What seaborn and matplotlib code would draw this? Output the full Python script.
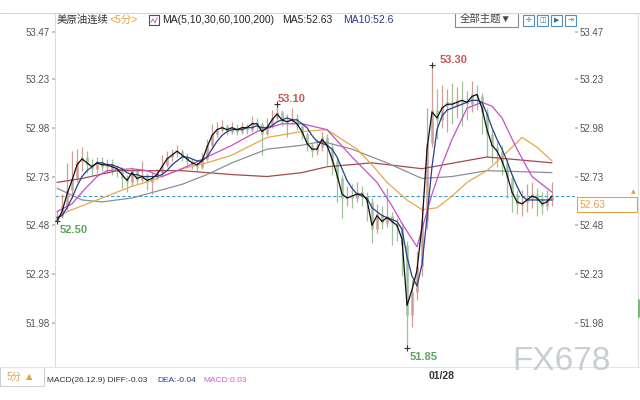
import numpy as np
import pandas as pd
import matplotlib
matplotlib.use("Agg")
import matplotlib.pyplot as plt
from matplotlib.lines import Line2D
from matplotlib.patches import Rectangle
import seaborn as sns

# ------------------------------------------------------------------
# Data: 5-minute bars of US crude (continuous)
# ------------------------------------------------------------------
first_open = 52.51
closes = [
    52.53, 52.58, 52.66, 52.72, 52.81, 52.83, 52.79, 52.77, 52.81, 52.78,
    52.80, 52.77, 52.76, 52.72, 52.70, 52.76, 52.71, 52.74, 52.70, 52.73,
    52.75, 52.79, 52.83, 52.85, 52.86, 52.83, 52.81, 52.79, 52.78, 52.82,
    52.89, 52.95, 52.97, 52.99, 52.96, 52.98, 52.96, 52.99, 52.97, 53.01,
    53.00, 52.95, 52.99, 53.03, 53.06, 53.01, 53.02, 53.03, 52.99, 52.95,
    52.89, 52.86, 52.88, 52.93, 52.88, 52.81, 52.72, 52.62, 52.63, 52.62,
    52.65, 52.63, 52.60, 52.46, 52.54, 52.49, 52.53, 52.49, 52.47, 52.38,
    52.02, 52.14, 52.27, 52.50, 52.90, 53.07, 53.02, 53.09, 53.11, 53.09,
    53.12, 53.11, 53.10, 53.15, 53.14, 53.06, 52.95, 52.88, 52.86, 52.80,
    52.72, 52.64, 52.59, 52.60, 52.62, 52.64, 52.61, 52.58, 52.61, 52.63,
]
highs = [
    52.56, 52.64, 52.80, 52.86, 52.87, 52.88, 52.86, 52.82, 52.83, 52.83,
    52.82, 52.82, 52.79, 52.78, 52.74, 52.78, 52.77, 52.81, 52.75, 52.75,
    52.77, 52.84, 52.86, 52.87, 52.89, 52.87, 52.85, 52.82, 52.81, 52.85,
    52.92, 53.00, 53.01, 53.02, 53.00, 53.01, 53.00, 53.01, 53.00, 53.04,
    53.03, 53.01, 53.03, 53.07, 53.10, 53.07, 53.05, 53.08, 53.05, 53.00,
    52.96, 52.90, 52.92, 52.96, 52.95, 52.90, 52.83, 52.74, 52.68, 52.69,
    52.70, 52.68, 52.65, 52.62, 52.59, 52.58, 52.67, 52.55, 52.52, 52.49,
    52.40, 52.20, 52.35, 52.58, 53.08, 53.30, 53.18, 53.20, 53.18, 53.21,
    53.19, 53.22, 53.17, 53.22, 53.20, 53.16, 53.08, 52.97, 52.91, 52.89,
    52.82, 52.74, 52.66, 52.66, 52.69, 52.70, 52.67, 52.65, 52.66, 52.70,
]
lows = [
    52.50, 52.52, 52.56, 52.62, 52.70, 52.76, 52.75, 52.74, 52.75, 52.76,
    52.75, 52.74, 52.73, 52.67, 52.65, 52.68, 52.69, 52.70, 52.66, 52.64,
    52.71, 52.74, 52.78, 52.81, 52.83, 52.81, 52.79, 52.77, 52.76, 52.77,
    52.81, 52.87, 52.93, 52.96, 52.94, 52.95, 52.94, 52.95, 52.95, 52.96,
    52.97, 52.84, 52.94, 52.98, 53.02, 52.99, 52.93, 53.00, 52.97, 52.92,
    52.86, 52.83, 52.84, 52.86, 52.79, 52.74, 52.60, 52.52, 52.58, 52.57,
    52.60, 52.58, 52.50, 52.39, 52.44, 52.46, 52.47, 52.38, 52.40, 52.22,
    51.85, 51.96, 52.10, 52.22, 52.46, 52.88, 52.92, 52.98, 52.96, 53.00,
    53.03, 52.99, 53.02, 53.06, 53.07, 52.95, 52.83, 52.80, 52.78, 52.74,
    52.62, 52.55, 52.54, 52.53, 52.55, 52.57, 52.53, 52.54, 52.56, 52.58,
]

ma5 = [
    52.50, 52.55, 52.64, 52.71, 52.79, 52.82, 52.80, 52.78, 52.80, 52.79,
    52.79, 52.78, 52.77, 52.74, 52.71, 52.75, 52.72, 52.73, 52.71, 52.72,
    52.74, 52.78, 52.82, 52.84, 52.86, 52.84, 52.82, 52.80, 52.79, 52.81,
    52.88, 52.94, 52.97, 52.98, 52.97, 52.98, 52.97, 52.98, 52.98, 53.00,
    53.00, 52.96, 52.98, 53.02, 53.05, 53.02, 53.01, 53.02, 53.00, 52.96,
    52.90, 52.87, 52.87, 52.92, 52.89, 52.82, 52.74, 52.64, 52.62, 52.63,
    52.64, 52.64, 52.61, 52.48, 52.53, 52.50, 52.52, 52.50, 52.48, 52.41,
    52.07, 52.15, 52.25, 52.48, 52.87, 53.06, 53.03, 53.08, 53.10, 53.10,
    53.11, 53.12, 53.11, 53.14, 53.15, 53.08, 52.97, 52.89, 52.86, 52.81,
    52.74, 52.65, 52.60, 52.59, 52.61, 52.63, 52.62, 52.59, 52.60, 52.63,
]
ma10 = [
    52.52, 52.53, 52.57, 52.62, 52.68, 52.73, 52.76, 52.78, 52.80, 52.80,
    52.79, 52.79, 52.78, 52.77, 52.75, 52.74, 52.74, 52.73, 52.73, 52.73,
    52.73, 52.74, 52.76, 52.79, 52.81, 52.83, 52.83, 52.82, 52.81, 52.81,
    52.83, 52.87, 52.91, 52.94, 52.96, 52.97, 52.97, 52.97, 52.98, 52.98,
    52.99, 52.98, 52.98, 52.99, 53.01, 53.02, 53.03, 53.02, 53.02, 53.00,
    52.98, 52.94, 52.91, 52.90, 52.89, 52.87, 52.83, 52.77, 52.71, 52.67,
    52.64, 52.63, 52.62, 52.57, 52.55, 52.53, 52.52, 52.51, 52.50, 52.46,
    52.32, 52.22, 52.17, 52.28, 52.52, 52.78, 52.97, 53.04, 53.07, 53.08,
    53.09, 53.10, 53.11, 53.12, 53.12, 53.11, 53.05, 52.98, 52.92, 52.87,
    52.81, 52.74, 52.68, 52.63, 52.61, 52.61, 52.61, 52.61, 52.61, 52.61,
]

ma30_bar = [0, 3, 5, 8, 10, 15, 18, 21, 25, 30, 35, 40, 45, 49, 54, 59,
            64, 67, 69, 72, 75, 77, 79, 82, 85, 87, 89, 92, 95, 99]
ma30 = [52.55, 52.59, 52.65, 52.73, 52.76, 52.77, 52.76, 52.73, 52.77,
        52.83, 52.89, 52.96, 53.00, 53.00, 52.97, 52.83, 52.70, 52.58,
        52.49, 52.37, 52.64, 52.79, 52.92, 53.08, 53.11, 53.09, 53.03,
        52.87, 52.73, 52.65]

ma60_bar = [0, 2, 6, 10, 15, 19, 25, 30, 35, 42, 49, 54, 60, 63, 66, 70,
            73, 76, 79, 82, 86, 89, 93, 96, 99]
ma60 = [52.52, 52.55, 52.59, 52.63, 52.68, 52.71, 52.77, 52.80, 52.84,
        52.93, 52.96, 52.97, 52.87, 52.79, 52.70, 52.61, 52.56, 52.57,
        52.63, 52.70, 52.76, 52.83, 52.93, 52.88, 52.81]

ma100_bar = [0, 5, 9, 15, 25, 30, 35, 42, 49, 53, 59, 66, 73, 79, 86, 99]
ma100 = [52.67, 52.61, 52.60, 52.62, 52.69, 52.74, 52.80, 52.87, 52.89,
         52.91, 52.87, 52.80, 52.72, 52.73, 52.76, 52.75]

ma200_bar = [0, 5, 12, 25, 35, 42, 49, 54, 63, 73, 86, 99]
ma200 = [52.70, 52.72, 52.76, 52.76, 52.74, 52.73, 52.75, 52.78, 52.80,
         52.77, 52.83, 52.80]

y_ticks = [51.98, 52.23, 52.48, 52.73, 52.98, 53.23, 53.47]
last_price = 52.63
date_bar = 77
date_label = "01/28"

UP = "#cf9f97"
DOWN = "#9fc29a"


def fx(px):
    return px / 640


def fy(py):
    return 1 - py / 400


sns.set_theme(style="white")
plt.rcParams["font.family"] = ["Liberation Sans", "Noto Sans CJK SC", "DejaVu Sans"]

fig = plt.figure(figsize=(6.4, 4), dpi=100)
ax = fig.add_axes([fx(55), 33 / 400, 520 / 640, 354 / 400])

# ------------------------------------------------------------------
# Candles
# ------------------------------------------------------------------
bars = pd.DataFrame({"close": closes, "high": highs, "low": lows})
bars["open"] = [first_open] + closes[:-1]
bars["bar"] = np.arange(len(bars))
up = bars["close"] >= bars["open"]
for mask, col in [(up, UP), (~up, DOWN)]:
    b = bars[mask]
    ax.vlines(b["bar"], b["low"], b["high"], color=col, lw=0.9, zorder=2)
    ax.vlines(b["bar"], b["open"], b["close"], color=col, lw=1.8, zorder=2)

# ------------------------------------------------------------------
# Moving averages
# ------------------------------------------------------------------
lines = [
    (ma200_bar, ma200, "#a34a4a"),
    (ma100_bar, ma100, "#8a9098"),
    (ma60_bar, ma60, "#e8a64c"),
    (ma30_bar, ma30, "#c84fc8"),
    (bars["bar"], ma10, "#24408f"),
    (bars["bar"], ma5, "#111111"),
]
for xs, ys, col in lines:
    sns.lineplot(x=xs, y=ys, ax=ax, color=col, lw=0.9, zorder=3)

ax.axhline(last_price, color="#3a9fc8", lw=0.8, ls=(0, (3, 2)), zorder=1)

# extreme markers
marks = [
    (44, 53.10, "53.10", "#c65a55", 44.2, 53.127),
    (75, 53.30, "53.30", "#c65a55", 76.6, 53.327),
    (0, 52.50, "52.50", "#5fa35f", 0.6, 52.456),
    (70, 51.85, "51.85", "#5fa35f", 70.6, 51.806),
]
for bx, by, lab, col, tx, ty in marks:
    ax.plot([bx], [by], marker="+", ms=4, mew=0.8, color="#333333", zorder=4)
    ax.text(tx, ty, lab, color=col, fontsize=8, fontweight="semibold",
            ha="left", va="center")

# ------------------------------------------------------------------
# Axes styling
# ------------------------------------------------------------------
ax.set_xlim(-0.4, 103.6)
ax.set_ylim(51.755, 53.567)
ax.set_yticks(y_ticks)
ax.set_yticklabels([f"{v:.2f}" for v in y_ticks])
ax.tick_params(axis="y", left=True, right=True, labelleft=True, labelright=True,
               length=2, pad=1.5, labelsize=7, labelcolor="#555555", color="#bbbbbb")
ax.set_xticks([date_bar])
ax.set_xticklabels([date_label])
ax.tick_params(axis="x", length=0, pad=3, labelsize=7.5, labelcolor="#333333")
for t in ax.get_xticklabels():
    t.set_fontweight("bold")
ax.set_xlabel("")
ax.set_ylabel("")
for s in ["top", "right", "bottom"]:
    ax.spines[s].set_visible(False)
ax.spines["left"].set_color("#dddddd")
ax.spines["left"].set_linewidth(0.8)

# ------------------------------------------------------------------
# Frame, header and footer
# ------------------------------------------------------------------
fig.add_artist(Line2D([0, 1], [fy(13), fy(13)], color="#d8d8d8", lw=0.8))
fig.add_artist(Line2D([0, 1], [fy(367), fy(367)], color="#e4e4e4", lw=0.8))
fig.add_artist(Line2D([fx(638), fx(638)], [fy(13), fy(367)], color="#e0e0e0", lw=0.8))
fig.add_artist(Line2D([fx(639), fx(639)], [fy(300), fy(317)], color="#5fb05f", lw=1.2))

hy = fy(20)
fig.text(fx(57), hy, "美原油连续", fontsize=7.5, color="#333333", va="center")
fig.text(fx(110), hy, "<5分>", fontsize=7.5, color="#e8a040", va="center")
fig.add_artist(Rectangle((fx(149), fy(25)), 10 / 640, 10 / 400, fill=False,
                         ec="#4a4a80", lw=0.8))
fig.add_artist(Line2D([fx(151), fx(153), fx(155), fx(157)],
                      [fy(22), fy(19), fy(23), fy(18)], color="#c050a0", lw=0.6))
fig.text(fx(162), hy, "MA(5,10,30,60,100,200)", fontsize=7.5, color="#222222", va="center")
fig.text(fx(282), hy, "MA5:52.63", fontsize=7.5, color="#222222", va="center")
fig.text(fx(343), hy, "MA10:52.6", fontsize=7.5, color="#2b3a8c", va="center")

fig.add_artist(Rectangle((fx(455), fy(27)), 63 / 640, 14 / 400, fill=True,
                         fc="white", ec="#8a8a8a", lw=0.8))
fig.text(fx(486), hy, "全部主题▼", fontsize=7.5, color="#444444", ha="center", va="center")
for k, glyph in enumerate(["✛", "◫", "▶", "⇥"]):
    x0 = 523 + 14 * k
    fig.add_artist(Rectangle((fx(x0), fy(26)), 11 / 640, 11 / 400, fill=False,
                             ec="#4d8fc4", lw=0.8))
    fig.text(fx(x0 + 5.5), fy(20.5), glyph, fontsize=5, color="#3a70a8",
             ha="center", va="center", family=["DejaVu Sans"])

# current price box
fig.add_artist(Rectangle((fx(577), fy(212)), 60 / 640, 15 / 400, fill=True,
                         fc="white", ec="#e8a040", lw=0.8))
fig.text(fx(580), fy(205), "52.63", fontsize=7.5, color="#e8a040", va="center")
fig.text(fx(633), fy(192), "▲", fontsize=4.5, color="#e8a040", ha="center", va="center",
         family=["DejaVu Sans"])

# footer
fig.add_artist(Rectangle((0, fy(386)), 44 / 640, 19 / 400, fill=False,
                         ec="#d0d0d0", lw=0.8))
fig.text(fx(7), fy(377), "5分", fontsize=7, color="#e8a040", va="center")
fig.text(fx(26), fy(377), "▲", fontsize=6, color="#e8a040", va="center",
         family=["DejaVu Sans"])
fy_m = fy(380)
fig.text(fx(47), fy_m, "MACD(26.12.9) DIFF:-0.03", fontsize=6, color="#333333", va="center")
fig.text(fx(157), fy_m, "DEA:-0.04", fontsize=6, color="#2b3a8c", va="center")
fig.text(fx(203), fy_m, "MACD:0.03", fontsize=6, color="#d060d0", va="center")

fig.text(fx(561), fy(361), "FX678", fontsize=24, color="#c9ced6", ha="center", va="center")

fig.savefig("out.png", dpi=100)
